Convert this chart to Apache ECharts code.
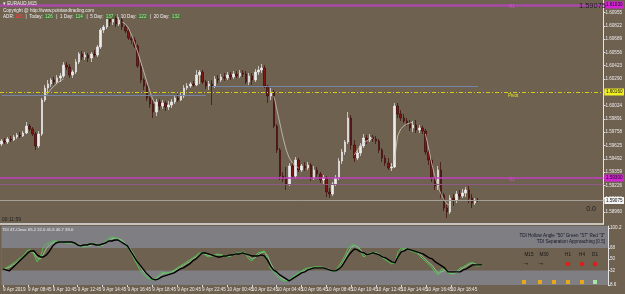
<!DOCTYPE html>
<html>
<head>
<meta charset="utf-8">
<script src="https://cdn.jsdelivr.net/npm/echarts@6/dist/echarts.min.js"></script>
<style>
html,body{margin:0;padding:0;background:#6f6150;}
#chart{width:625px;height:294px;}
</style>
</head>
<body>
<div id="chart"></div>
<script>
// EURAUD M15, 9 Apr 2019 06:45 onward
var openP = [1.5964,1.5967,1.5966,1.5969,1.5968,1.5971,1.5973,1.5972,1.5975,1.5982,
 1.5979,1.5974,1.5962,1.5974,1.6008,1.6020,1.6024,1.6028,1.6026,1.6030,
 1.6032,1.6043,1.6041,1.6033,1.6036,1.6046,1.6054,1.6051,1.6053,1.6050,
 1.6054,1.6053,1.6061,1.6078,1.6081,1.6089,1.6086,1.6090,1.6084,1.6088,
 1.6081,1.6077,1.6070,1.6068,1.6062,1.6042,1.6028,1.6022,1.6010,1.6004,
 1.5996,1.6006,1.6002,1.6005,1.6001,1.6003,1.6006,1.6010,1.6008,1.6012,
 1.6020,1.6022,1.6024,1.6023,1.6033,1.6036,1.6026,1.6022,1.6024,1.6022,
 1.6029,1.6028,1.6031,1.6030,1.6033,1.6031,1.6034,1.6032,1.6035,1.6034,
 1.6026,1.6032,1.6028,1.6036,1.6038,1.6040,1.6022,1.6012,1.6016,1.5982,
 1.5958,1.5932,1.5929,1.5924,1.5942,1.5932,1.5948,1.5938,1.5942,1.5940,
 1.5943,1.5930,1.5938,1.5934,1.5928,1.5930,1.5916,1.5914,1.5924,1.5930,
 1.5947,1.5956,1.5966,1.5990,1.5963,1.5950,1.5955,1.5962,1.5970,1.5968,
 1.5971,1.5969,1.5967,1.5958,1.5950,1.5945,1.5940,1.5941,1.6002,1.5994,
 1.5990,1.5987,1.5985,1.5980,1.5983,1.5978,1.5980,1.5977,1.5956,1.5948,
 1.5930,1.5922,1.5938,1.5913,1.5900,1.5896,1.5910,1.5908,1.5914,1.5912,
 1.5915,1.5918,1.5910,1.5905,1.5908];
var closeP = [1.5967,1.5966,1.5969,1.5968,1.5971,1.5973,1.5972,1.5975,1.5982,1.5979,
 1.5974,1.5962,1.5974,1.6008,1.6020,1.6024,1.6028,1.6026,1.6030,1.6032,
 1.6043,1.6041,1.6033,1.6036,1.6046,1.6054,1.6051,1.6053,1.6050,1.6054,
 1.6053,1.6061,1.6078,1.6081,1.6089,1.6086,1.6090,1.6084,1.6088,1.6081,
 1.6077,1.6070,1.6068,1.6062,1.6042,1.6028,1.6022,1.6010,1.6004,1.5996,
 1.6006,1.6002,1.6005,1.6001,1.6003,1.6006,1.6010,1.6008,1.6012,1.6020,
 1.6022,1.6024,1.6023,1.6033,1.6036,1.6026,1.6022,1.6024,1.6022,1.6029,
 1.6028,1.6031,1.6030,1.6033,1.6031,1.6034,1.6032,1.6035,1.6034,1.6026,
 1.6032,1.6028,1.6036,1.6038,1.6040,1.6022,1.6012,1.6016,1.5982,1.5958,
 1.5932,1.5929,1.5924,1.5942,1.5932,1.5948,1.5938,1.5942,1.5940,1.5943,
 1.5930,1.5938,1.5934,1.5928,1.5930,1.5916,1.5914,1.5924,1.5930,1.5947,
 1.5956,1.5966,1.5990,1.5963,1.5950,1.5955,1.5962,1.5970,1.5968,1.5971,
 1.5969,1.5967,1.5958,1.5950,1.5945,1.5940,1.5941,1.6002,1.5994,1.5990,
 1.5987,1.5985,1.5980,1.5983,1.5978,1.5980,1.5977,1.5956,1.5948,1.5930,
 1.5922,1.5938,1.5913,1.5900,1.5896,1.5910,1.5908,1.5914,1.5912,1.5915,
 1.5918,1.5910,1.5905,1.5908,1.59075];
var highP = [1.5969,1.5970,1.5971,1.5972,1.5973,1.5975,1.5976,1.5977,1.5986,1.5984,
 1.5981,1.5976,1.5977,1.6010,1.6023,1.6028,1.6030,1.6031,1.6033,1.6035,
 1.6046,1.6046,1.6044,1.6038,1.6049,1.6056,1.6057,1.6056,1.6055,1.6056,
 1.6058,1.6063,1.6080,1.6083,1.6092,1.6092,1.6093,1.6092,1.6091,1.6091,
 1.6084,1.6079,1.6073,1.6071,1.6064,1.6046,1.6030,1.6024,1.6013,1.6008,
 1.6009,1.6009,1.6008,1.6007,1.6007,1.6009,1.6013,1.6014,1.6016,1.6023,
 1.6025,1.6026,1.6027,1.6038,1.6038,1.6038,1.6028,1.6027,1.6028,1.6032,
 1.6033,1.6034,1.6035,1.6036,1.6036,1.6037,1.6037,1.6038,1.6038,1.6037,
 1.6035,1.6035,1.6039,1.6042,1.6044,1.6043,1.6023,1.6020,1.6018,1.5984,
 1.5960,1.5936,1.5941,1.5945,1.5945,1.5951,1.5950,1.5944,1.5946,1.5946,
 1.5945,1.5942,1.5941,1.5936,1.5933,1.5932,1.5920,1.5926,1.5933,1.5950,
 1.5959,1.5968,1.5996,1.5993,1.5968,1.5958,1.5965,1.5974,1.5973,1.5974,
 1.5973,1.5972,1.5969,1.5960,1.5953,1.5950,1.5945,1.6005,1.6005,1.5998,
 1.5994,1.5990,1.5988,1.5987,1.5988,1.5983,1.5982,1.5979,1.5958,1.5950,
 1.5933,1.5942,1.5946,1.5915,1.5903,1.5913,1.5914,1.5917,1.5918,1.5919,
 1.5921,1.5922,1.5914,1.5910,1.5910];
var lowP = [1.5962,1.5964,1.5964,1.5966,1.5967,1.5969,1.5970,1.5971,1.5974,1.5977,
 1.5972,1.5958,1.5960,1.5972,1.6006,1.6016,1.6021,1.6023,1.6024,1.6026,
 1.6030,1.6038,1.6030,1.6030,1.6034,1.6044,1.6048,1.6048,1.6046,1.6046,
 1.6051,1.6051,1.6059,1.6075,1.6079,1.6082,1.6083,1.6081,1.6082,1.6078,
 1.6075,1.6068,1.6064,1.6060,1.6040,1.6025,1.6018,1.6007,1.6000,1.5990,
 1.5992,1.5998,1.5999,1.5997,1.5998,1.6000,1.6004,1.6006,1.6007,1.6010,
 1.6018,1.6020,1.6021,1.6022,1.6024,1.6024,1.6019,1.6018,1.6003,1.6020,
 1.6025,1.6026,1.6027,1.6028,1.6028,1.6029,1.6030,1.6030,1.6031,1.6024,
 1.6023,1.6023,1.6026,1.6033,1.6035,1.6020,1.6005,1.6008,1.5980,1.5955,
 1.5928,1.5926,1.5918,1.5922,1.5930,1.5930,1.5936,1.5936,1.5937,1.5938,
 1.5927,1.5928,1.5931,1.5925,1.5924,1.5911,1.5910,1.5912,1.5922,1.5928,
 1.5944,1.5953,1.5964,1.5958,1.5946,1.5948,1.5952,1.5960,1.5964,1.5966,
 1.5966,1.5964,1.5955,1.5946,1.5942,1.5938,1.5937,1.5940,1.5990,1.5987,
 1.5985,1.5982,1.5977,1.5976,1.5975,1.5975,1.5974,1.5953,1.5943,1.5926,
 1.5918,1.5918,1.5910,1.5897,1.5890,1.5894,1.5902,1.5905,1.5909,1.5910,
 1.5911,1.5905,1.5900,1.5903,1.5906];

// thin pale trend line, only drawn during the strong moves
var trailSegs = [
 {from: 14, vals: [1.6011,1.6015,1.6019,1.6022,1.6025,1.6027,1.6029]},
 {from: 39, vals: [1.6086,1.6084,1.6080,1.6073,1.6065,1.6056,1.6046,1.6036,1.6026,1.6016,1.6008,1.6002]},
 {from: 88, vals: [1.6012,1.5998,1.5984,1.5970,1.5958,1.5950,1.5945,1.5942,1.5940]},
 {from: 114, vals: [1.5953,1.5958,1.5962,1.5965,1.5967,1.5969,1.5970]},
 {from: 127, vals: [1.5948,1.5972,1.5979,1.5982,1.5984,1.5985,1.5986]},
 {from: 137, vals: [1.5974,1.5960,1.5945,1.5932,1.5922,1.5914,1.5908,1.5904,1.5902]}
];

// TDI sub window
var tdiSignal = [34.4,32.8,31.2,36.0,40.8,45.6,50.4,55.2,60.0,63.2,
 63.2,56.8,53.6,53.6,56.8,63.2,71.2,76.0,77.6,77.6,
 77.6,77.6,77.6,76.0,72.8,71.2,72.8,72.8,74.4,74.4,
 72.8,72.8,74.4,76.0,79.2,79.2,80.8,80.8,77.6,74.4,
 71.2,63.2,55.2,47.2,40.8,34.4,28.0,23.2,18.4,16.8,
 18.4,21.6,23.2,24.8,26.4,28.0,31.2,34.4,36.0,39.2,
 42.4,47.2,50.4,55.2,60.0,60.0,58.4,56.8,55.2,53.6,
 53.6,55.2,55.2,56.8,56.8,58.4,58.4,60.0,58.4,56.8,
 55.2,55.2,55.2,56.8,55.2,48.8,39.2,32.8,29.6,24.8,
 21.6,18.4,15.2,18.4,21.6,24.8,28.0,29.6,32.8,34.4,
 36.0,36.0,36.0,36.0,34.4,32.8,31.2,31.2,34.4,39.2,
 47.2,55.2,61.6,66.4,64.8,61.6,60.0,56.8,58.4,60.0,
 58.4,56.8,53.6,52.0,48.8,45.6,44.0,53.6,61.6,63.2,
 66.4,64.8,63.2,61.6,60.0,58.4,55.2,52.0,50.4,45.6,
 42.4,39.2,36.0,29.6,29.6,29.6,29.6,29.6,32.8,34.4,
 37.6,40.8,40.8,40.8,40.8];
var tdiPrice = [34.4,36.0,39.2,42.4,45.6,50.4,53.6,58.4,64.8,64.8,
 56.8,45.6,53.6,69.6,74.4,76.0,79.2,79.2,77.6,77.6,
 76.0,76.0,76.0,76.0,72.8,71.2,69.6,71.2,74.4,76.0,
 72.8,69.6,74.4,79.2,84.0,85.6,84.0,82.4,79.2,74.4,
 69.6,61.6,52.0,42.4,32.8,26.4,21.6,18.4,16.8,18.4,
 24.8,29.6,28.0,28.0,29.6,32.8,36.0,39.2,42.4,45.6,
 48.8,52.0,55.2,60.0,60.0,56.8,53.6,55.2,56.8,58.4,
 56.8,55.2,53.6,55.2,56.8,60.0,60.0,61.6,58.4,50.4,
 47.2,55.2,60.0,61.6,63.2,50.4,34.4,29.6,23.2,18.4,
 15.2,15.2,16.8,21.6,24.8,28.0,31.2,34.4,36.0,36.0,
 37.6,37.6,37.6,36.0,34.4,32.8,29.6,31.2,39.2,47.2,
 56.8,68.0,72.8,72.8,68.0,61.6,53.6,56.8,60.0,60.0,
 60.0,56.8,52.0,48.8,45.6,42.4,44.0,61.6,68.0,66.4,
 66.4,63.2,61.6,60.0,55.2,50.4,45.6,40.8,36.0,28.0,
 24.8,34.4,32.8,28.0,26.4,26.4,31.2,36.0,37.6,40.8,
 44.0,44.0,39.2,39.2,40.8];
var tdiBand = [35,35,37,40,43,47,51,55,60,62,
 60,52,50,58,68,73,76,78,78,77,
 77,76,76,75,74,72,71,71,72,74,
 74,72,72,75,80,83,84,83,81,77,
 72,66,58,48,39,31,25,21,19,18,
 21,26,28,28,29,31,34,37,40,43,
 46,50,53,57,59,58,56,55,56,57,
 57,56,55,55,56,58,59,60,60,55,
 50,52,57,60,62,56,44,35,28,22,
 18,16,16,19,23,26,29,32,34,36,
 37,37,37,37,35,34,31,30,35,42,
 51,61,69,72,70,65,58,56,58,59,
 60,58,55,51,48,45,44,53,63,66,
 67,65,63,61,58,54,49,44,40,33,
 27,30,32,29,27,27,29,33,36,39,
 42,44,42,40,40];

var priceTicks = [1.58960,1.59093,1.59226,1.59359,1.59492,1.59625,1.59758,1.59891,
 1.60024,1.60157,1.60290,1.60423,1.60556,1.60689,1.60822,1.60955];
var tdiTicks = [100.2, 68, 50, 32, 8.6];
var xTickLabels = ['9 Apr 2019','9 Apr 08:45','9 Apr 10:45','9 Apr 12:45','9 Apr 14:45',
 '9 Apr 16:45','9 Apr 18:45','9 Apr 20:45','9 Apr 22:45','10 Apr 00:45','10 Apr 02:45',
 '10 Apr 04:45','10 Apr 06:45','10 Apr 08:45','10 Apr 10:45','10 Apr 12:45','10 Apr 14:45',
 '10 Apr 16:45','10 Apr 18:45','10 Apr 20:45'];

var levelR1 = 1.6103, levelPivot = 1.6016, levelS1 = 1.5930, levelS1b = 1.5924;
var prevLevels = [1.6013, 1.6022];
var bidPrice = 1.59075;

var adr = {adr: 128, today: 126, d1: 114, d5: 137, d10: 122, d20: 132};
var tfLabels = ['M15','M30','H1','H4','D1'];
var tfDir = ['flat','flat','down','down','down'];
var stripColors = ['#e8a81c','#e8a81c','#e8a81c','#e8a81c','#e8a81c','#a8e4a8'];

var nSlots = 195;
var barTimes = [];
var t0 = Date.UTC(2019, 3, 9, 6, 45);
for (var i = 0; i < nSlots; i++) {
    var d = new Date(t0 + i * 900000);
    barTimes.push(d.getUTCDate() + ' Apr ' + ('0' + d.getUTCHours()).slice(-2) + ':' + ('0' + d.getUTCMinutes()).slice(-2));
}

var candles = [];
for (var i = 0; i < openP.length; i++) {
    candles.push([openP[i], closeP[i], lowP[i], highP[i]]);
}

var trail = [];
for (var i = 0; i < openP.length; i++) trail.push(null);
for (var s of trailSegs) {
    for (var k = 0; k < s.vals.length; k++) trail[s.from + k] = s.vals[k];
}

var FONT = 'Liberation Sans';
var tiny = 4.6;

function lvlLabel(bg) {
    return {
        show: true, position: 'end', distance: 1, formatter: function (p) { return Number(p.value).toFixed(5); },
        backgroundColor: bg, color: '#111', fontSize: tiny, fontFamily: FONT, padding: [1, 1.5]
    };
}

var myChart = echarts.init(document.getElementById('chart'));

var elements = [
    {type: 'text', x: 3, y: 1.5, z: 100, style: {text: '\u25BE EURAUD,M15', fill: '#f0f0f0', font: tiny + 'px ' + FONT}},
    {type: 'text', x: 3, y: 8, z: 100, style: {text: 'Copyright @ http://www.pointandtrading.com', fill: '#f0f0f0', font: tiny + 'px ' + FONT}},
    {type: 'text', x: 3, y: 14, z: 100, style: {
        text: '{w|ADR: }{r|' + adr.adr + '}{w|  |  Today: }{g|' + adr.today + '}{w|  |  1 Day: }{g|' + adr.d1 +
              '}{w|  |  5 Day: }{g|' + adr.d5 + '}{w|  |  10 Day: }{g|' + adr.d10 + '}{w|  |  20 Day: }{g|' + adr.d20 + '}',
        font: tiny + 'px ' + FONT,
        rich: {
            w: {fill: '#f0f0f0', fontSize: tiny, fontFamily: FONT},
            r: {fill: '#ff4040', fontSize: tiny, fontFamily: FONT},
            g: {fill: '#a8f0a0', backgroundColor: '#4d6b3d', fontSize: tiny, fontFamily: FONT, padding: [0, 1]}
        }
    }},
    {type: 'text', x: 606, y: 2, z: 100, style: {text: bidPrice.toFixed(5), fill: '#1c1c1c', font: '7.5px ' + FONT, textAlign: 'right'}},
    {type: 'text', x: 596, y: 206, z: 100, style: {text: '0.0', fill: '#1c1c1c', font: '7px ' + FONT, textAlign: 'right'}},
    {type: 'text', x: 2, y: 217, z: 100, style: {text: '00:11:59', fill: '#202020', font: '5px ' + FONT}},
    {type: 'text', x: 508, y: 93.5, z: 100, style: {text: 'Pivot', fill: '#e6e62a', font: tiny + 'px ' + FONT}},
    {type: 'text', x: 509, y: 4, z: 100, style: {text: 'R1', fill: '#e040e0', font: tiny + 'px ' + FONT}},
    {type: 'text', x: 509, y: 177, z: 100, style: {text: 'S1', fill: '#e040e0', font: tiny + 'px ' + FONT}},
    {type: 'text', x: 2, y: 227.5, z: 100, style: {text: 'TDI 4T-Close 65.2 22.0 41.6 40.7 39.0', fill: '#f0f0f0', font: '4.2px ' + FONT}},
    {type: 'text', x: 605, y: 233.5, z: 100, style: {text: 'TDI Hollow Angle "50" Green "57" Red "3"', fill: '#15152a', font: tiny + 'px ' + FONT, textAlign: 'right'}},
    {type: 'text', x: 605, y: 239, z: 100, style: {text: 'TDI Separation Approaching [0.5]', fill: '#15152a', font: tiny + 'px ' + FONT, textAlign: 'right'}}
];

var tfX = [529, 544, 568, 582, 595];
var markX = [526, 541, 568, 582, 595];
var stripX = [524, 540, 554, 568, 582, 595];
tfLabels.forEach(function (lab, j) {
    elements.push({type: 'text', x: tfX[j], y: 252, z: 100, style: {text: lab, fill: '#151515', font: tiny + 'px ' + FONT, textAlign: 'center'}});
    if (tfDir[j] === 'down') {
        elements.push({type: 'circle', z: 100, shape: {cx: markX[j], cy: 264, r: 2.3}, style: {fill: '#e01c1c'}});
    } else {
        elements.push({type: 'text', x: markX[j], y: 260, z: 100, style: {text: '\u2192', fill: '#000', font: 'bold 7px ' + FONT, textAlign: 'center'}});
    }
});
stripColors.forEach(function (c, j) {
    elements.push({type: 'rect', z: 100, shape: {x: stripX[j] - 2, y: 280, width: 4, height: 4}, style: {fill: c}});
});

var option = {
    animation: false,
    backgroundColor: '#6f6150',
    grid: [
        {left: 0, right: 17, top: 0, height: 224},
        {left: 0, right: 17, top: 226, height: 59, show: true, backgroundColor: '#7f7f83', borderWidth: 0}
    ],
    xAxis: [
        {type: 'category', gridIndex: 0, data: barTimes, boundaryGap: true,
         axisLine: {show: true, lineStyle: {color: '#e4e4e4', width: 1.5}},
         axisTick: {show: false}, axisLabel: {show: false}, splitLine: {show: false}},
        {type: 'category', gridIndex: 1, data: barTimes, boundaryGap: true,
         axisLine: {show: false},
         axisTick: {show: true, alignWithLabel: true, length: 2, interval: function (idx) { return idx % 8 === 0 && idx / 8 < xTickLabels.length; }, lineStyle: {color: '#e0e0e0'}},
         axisLabel: {show: true, interval: function (idx) { return idx % 8 === 0 && idx / 8 < xTickLabels.length; },
                     formatter: function (v, idx) { return xTickLabels[idx / 8] || ''; },
                     color: '#ececec', fontSize: tiny, fontFamily: FONT, align: 'left', margin: 2},
         splitLine: {show: false}}
    ],
    yAxis: [
        {type: 'value', gridIndex: 0, position: 'right', min: 1.5884, max: 1.6108, scale: true,
         axisLine: {show: true, lineStyle: {color: '#e4e4e4', width: 1}},
         axisTick: {show: true, length: 2, customValues: priceTicks, lineStyle: {color: '#e0e0e0'}},
         axisLabel: {show: true, customValues: priceTicks, formatter: function (v) { return v.toFixed(5); },
                     color: '#ececec', fontSize: tiny, fontFamily: FONT, margin: 2},
         splitLine: {show: false}},
        {type: 'value', gridIndex: 1, position: 'right', min: 8.6, max: 103.2,
         axisLine: {show: true, lineStyle: {color: '#e4e4e4', width: 1}},
         axisTick: {show: true, length: 2, customValues: tdiTicks, lineStyle: {color: '#e0e0e0'}},
         axisLabel: {show: true, customValues: tdiTicks, color: '#ececec', fontSize: tiny, fontFamily: FONT, margin: 2},
         splitLine: {show: false}}
    ],
    graphic: {elements: elements},
    series: [
        {
            type: 'candlestick', xAxisIndex: 0, yAxisIndex: 0, data: candles, barWidth: 2,
            itemStyle: {color: '#ececec', color0: '#7e1616', borderColor: '#ececec', borderColor0: '#3e0c0c', borderWidth: 0.7},
            markLine: {
                silent: true, symbol: 'none', animation: false, precision: 5,
                data: [
                    {yAxis: levelR1, lineStyle: {color: '#a94aa9', width: 2.5, type: 'solid'}, label: lvlLabel('#d424d4')},
                    {yAxis: levelPivot, lineStyle: {color: '#cfcf1a', width: 1, type: [4, 2, 1, 2]}, label: lvlLabel('#f0f020')},
                    {yAxis: levelS1, lineStyle: {color: '#c040c0', width: 1.5, type: 'solid'}, label: lvlLabel('#d424d4')},
                    {yAxis: levelS1b, lineStyle: {color: '#8e5a84', width: 1, type: 'solid'}, label: {show: false}},
                    {yAxis: bidPrice, lineStyle: {color: '#a4a09a', width: 1, type: 'solid'}, label: lvlLabel('#f4f4f4')},
                    [{coord: [0, prevLevels[0]], lineStyle: {color: '#7484a4', width: 1, type: 'solid'}, label: {show: false}},
                     {coord: [66, prevLevels[0]]}],
                    [{coord: [68, prevLevels[1]], lineStyle: {color: '#7484a4', width: 1, type: 'solid'}, label: {show: false}},
                     {coord: [154, prevLevels[1]]}]
                ]
            },
            z: 3
        },
        {
            type: 'line', xAxisIndex: 0, yAxisIndex: 0, data: trail, symbol: 'none', connectNulls: false,
            lineStyle: {color: '#cdc5bb', width: 0.8}, z: 4
        },
        {
            type: 'line', xAxisIndex: 1, yAxisIndex: 1, data: [], symbol: 'none',
            markArea: {silent: true, itemStyle: {color: '#6f6150'}, data: [[{yAxis: 68}, {yAxis: 32}]]},
            z: 1
        },
        {
            type: 'line', xAxisIndex: 1, yAxisIndex: 1, data: tdiBand, symbol: 'none',
            lineStyle: {color: '#93c493', width: 1}, z: 3
        },
        {
            type: 'line', xAxisIndex: 1, yAxisIndex: 1, data: tdiPrice, symbol: 'none',
            lineStyle: {color: '#4fc34f', width: 1}, z: 4
        },
        {
            type: 'line', xAxisIndex: 1, yAxisIndex: 1, data: tdiSignal, symbol: 'none',
            lineStyle: {color: '#000000', width: 1.4}, z: 5
        }
    ]
};

myChart.setOption(option);
</script>
</body>
</html>
